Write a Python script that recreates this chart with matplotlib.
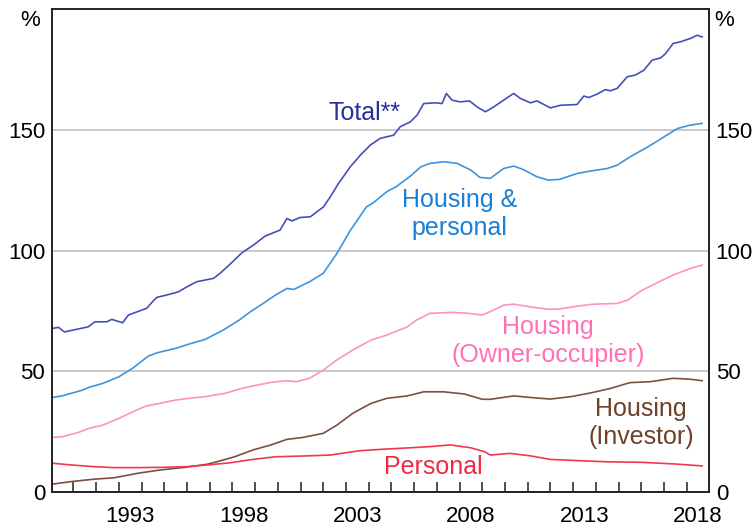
import matplotlib
matplotlib.use('Agg')
import matplotlib.pyplot as plt
import numpy as np

plt.rcParams['font.family'] = ['Liberation Sans', 'DejaVu Sans']

# data (% of household disposable income)
total_x = [1990.1, 1990.35, 1990.6, 1991.65, 1991.95, 1992.47, 1992.69, 1993.17, 1993.42, 1994.23,
           1994.52, 1994.67, 1995.11, 1995.62, 1996.0, 1996.43, 1997.17, 1997.46, 1997.98, 1998.42,
           1998.93, 1999.44, 2000.1, 2000.4, 2000.62, 2000.98, 2001.43, 2002.01, 2002.31, 2002.67,
           2003.19, 2003.63, 2004.07, 2004.51, 2005.1, 2005.39, 2005.83, 2006.13, 2006.42, 2006.93,
           2007.23, 2007.42, 2007.67, 2008.03, 2008.44, 2008.77, 2009.14, 2009.5, 2009.94, 2010.38,
           2010.68, 2011.12, 2011.41, 2012.0, 2012.44, 2013.17, 2013.47, 2013.69, 2014.05, 2014.42,
           2014.64, 2014.94, 2015.38, 2015.74, 2016.11, 2016.48, 2016.85, 2017.07, 2017.4, 2017.73,
           2018.17, 2018.46, 2018.68]
total_y = [67.8, 68.2, 66.3, 68.4, 70.5, 70.5, 71.5, 70.1, 73.3, 76.1,
           79.2, 80.6, 81.6, 82.9, 85.0, 87.1, 88.5, 90.6, 95.1, 99.1,
           102.3, 106.0, 108.5, 113.3, 112.3, 113.7, 114.0, 118.1, 122.3, 127.8,
           134.7, 139.5, 143.7, 146.5, 147.8, 151.3, 153.3, 156.1, 160.9, 161.2,
           160.9, 165.1, 162.3, 161.6, 162.0, 159.5, 157.5, 159.5, 162.3, 165.1,
           163.0, 161.2, 162.0, 159.1, 160.2, 160.5, 164.0, 163.4, 164.8, 166.7,
           166.2, 167.2, 172.0, 172.7, 174.7, 178.9, 179.8, 181.6, 185.8, 186.5,
           187.9, 189.2, 188.5]

hp_x = [1990.1, 1990.5, 1991.4, 1991.7, 1992.3, 1993.0, 1993.6, 1994.3, 1994.7, 1995.5,
        1996.1, 1996.8, 1997.6, 1998.3, 1998.8, 1999.4, 1999.9, 2000.4, 2000.7, 2001.4,
        2002.0, 2002.6, 2003.2, 2003.9, 2004.2, 2004.8, 2005.2, 2005.8, 2006.3, 2006.7,
        2007.3, 2007.9, 2008.5, 2008.9, 2009.35, 2009.94, 2010.38, 2010.8, 2011.4, 2011.9,
        2012.4, 2013.2, 2013.8, 2014.5, 2014.94, 2015.5, 2016.3, 2017.0, 2017.6, 2018.17, 2018.68]
hp_y = [39.2, 39.8, 42.2, 43.4, 45.0, 47.7, 51.2, 56.3, 57.7, 59.5,
        61.3, 63.2, 67.1, 71.2, 74.7, 78.4, 81.6, 84.3, 83.9, 87.1,
        90.6, 98.8, 108.5, 118.1, 119.8, 124.4, 126.4, 130.6, 134.7, 136.1,
        136.8, 136.1, 133.3, 130.3, 129.9, 134.0, 135.0, 133.6, 130.6, 129.2,
        129.5, 132.0, 133.0, 134.0, 135.4, 138.8, 143.0, 147.1, 150.6, 152.0, 152.7]

oo_x = [1990.1, 1990.5, 1991.2, 1991.7, 1992.3, 1993.0, 1993.8, 1994.2, 1994.8, 1995.5,
        1996.1, 1996.8, 1997.7, 1998.4, 1999.1, 1999.7, 2000.4, 2000.8, 2001.4, 2002.0,
        2002.6, 2003.3, 2004.1, 2004.8, 2005.7, 2006.1, 2006.7, 2007.7, 2008.4, 2009.0,
        2009.35, 2009.94, 2010.38, 2011.1, 2011.9, 2012.4, 2013.2, 2013.9, 2014.94, 2015.4,
        2016.0, 2016.7, 2017.4, 2018.17, 2018.68]
oo_y = [22.6, 22.9, 24.6, 26.4, 27.7, 30.5, 34.0, 35.6, 36.7, 38.1,
        38.8, 39.5, 40.9, 42.9, 44.3, 45.4, 46.1, 45.7, 47.1, 50.5,
        54.7, 58.8, 62.9, 65.0, 68.4, 71.2, 74.0, 74.4, 74.0, 73.3,
        74.7, 77.4, 77.8, 76.7, 75.7, 75.8, 77.0, 77.8, 78.1, 79.5,
        83.4, 86.7, 89.9, 92.6, 94.0]

inv_x = [1990.1, 1990.9, 1991.9, 1992.8, 1993.8, 1994.8, 1995.9, 1996.9, 1997.5, 1998.1,
         1998.9, 1999.7, 2000.4, 2001.1, 2002.0, 2002.6, 2003.3, 2004.1, 2004.8, 2005.7,
         2006.42, 2007.3, 2008.2, 2009.0, 2009.35, 2010.38, 2011.3, 2012.0, 2012.9, 2013.8,
         2014.64, 2015.5, 2016.4, 2017.4, 2018.17, 2018.68]
inv_y = [3.3, 4.3, 5.3, 5.9, 7.7, 9.1, 10.2, 11.5, 13.0, 14.6,
         17.4, 19.5, 21.8, 22.6, 24.3, 27.7, 32.6, 36.7, 38.8, 39.8,
         41.5, 41.5, 40.6, 38.4, 38.4, 39.8, 39.0, 38.5, 39.5, 41.1,
         42.9, 45.3, 45.7, 47.1, 46.7, 46.1]

pers_x = [1990.1, 1990.9, 1991.9, 1992.8, 1993.8, 1994.8, 1996.0, 1996.9, 1997.9, 1998.9,
          1999.9, 2001.1, 2002.3, 2003.6, 2004.6, 2005.8, 2006.7, 2007.6, 2008.5, 2009.1,
          2009.35, 2010.2, 2011.1, 2012.0, 2013.2, 2014.5, 2016.0, 2017.5, 2018.68]
pers_y = [11.9, 11.2, 10.5, 10.1, 10.1, 10.2, 10.5, 11.2, 12.1, 13.5,
          14.6, 14.9, 15.3, 17.1, 17.7, 18.3, 18.8, 19.5, 18.3, 16.7,
          15.3, 16.0, 15.0, 13.5, 13.0, 12.5, 12.3, 11.6, 10.8]

fig = plt.figure(figsize=(7.54, 5.30), dpi=100)
ax = fig.add_axes([0.069, 0.0717, 0.871, 0.911])

ax.plot(total_x, total_y, color='#4450B8', lw=1.2)
ax.plot(hp_x, hp_y, color='#3C95DE', lw=1.2)
ax.plot(oo_x, oo_y, color='#FF90C8', lw=1.2)
ax.plot(inv_x, inv_y, color='#7B5040', lw=1.2)
ax.plot(pers_x, pers_y, color='#F2384F', lw=1.2)

ax.set_xlim(1990.06, 2018.97)
ax.set_ylim(0, 200)

ax.set_yticks([0, 50, 100, 150])
ax.yaxis.grid(True, color='#C0C0C0', lw=1.2)
ax.set_axisbelow(True)
ax.tick_params(axis='y', length=0, labelsize=16, labelright=True, pad=5)

years = np.arange(1993, 2019, 5)
ax.set_xticks(years + 0.5)
ax.set_xticklabels([str(y) for y in years])
ax.set_xticks(np.arange(1991, 2019), minor=True)
ax.tick_params(axis='x', which='major', length=0, labelsize=16, pad=10)
ax.tick_params(axis='x', which='minor', direction='in', length=7, width=1.2, color='#333333')

for s in ax.spines.values():
    s.set_linewidth(1.4)
    s.set_color('#222222')

fig.text(30 / 754, 1 - 20 / 530, '%', fontsize=16, ha='center', va='center')
fig.text(724 / 754, 1 - 20 / 530, '%', fontsize=16, ha='center', va='center')

ax.text(2003.8, 157, 'Total**', color='#2430A0', fontsize=18, ha='center', va='center')
ax.text(2008.0, 115, 'Housing &\npersonal', color='#1A7FD6', fontsize=18, ha='center',
        va='center', linespacing=1.2)
ax.text(2011.9, 62.5, 'Housing\n(Owner-occupier)', color='#FF70B4', fontsize=18, ha='center',
        va='center', linespacing=1.2)
ax.text(2016.0, 28.5, 'Housing\n(Investor)', color='#6E4128', fontsize=18, ha='center',
        va='center', linespacing=1.2)
ax.text(2006.85, 10.3, 'Personal', color='#F02A40', fontsize=18, ha='center', va='center')

fig.savefig('out.png', dpi=100)
